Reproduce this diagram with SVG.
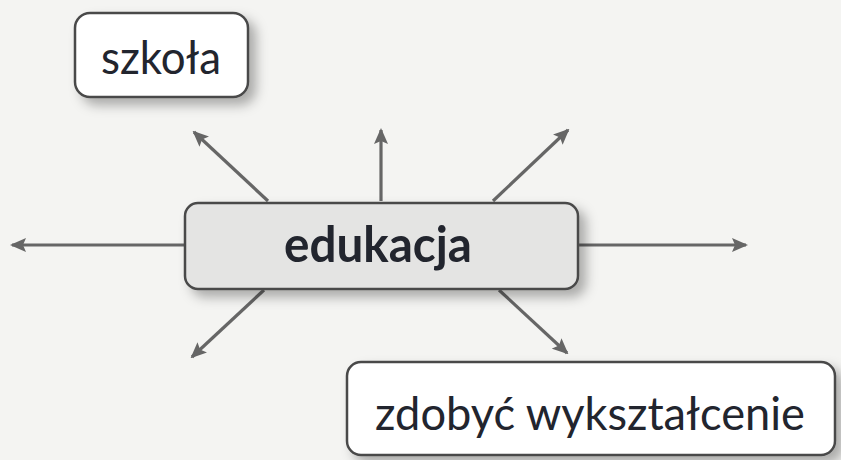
<svg xmlns="http://www.w3.org/2000/svg" width="841" height="460" viewBox="0 0 841 460">
<style>
.box{stroke:#4a4a4a;stroke-width:2.5}
.lbl{font-family:Lato,"Open Sans","DejaVu Sans",sans-serif;fill:#22252e;text-anchor:middle}
.conn line{stroke:#666;stroke-width:3.2;marker-end:url(#ah)}
</style>
<defs>
<marker id="ah" viewBox="0 0 16 14" refX="14" refY="7" markerWidth="16" markerHeight="14" markerUnits="userSpaceOnUse" orient="auto">
<path d="M0,0 L16,7 L0,14 L3,7 Z" fill="#666"/>
</marker>
<filter id="sh" x="-20%" y="-30%" width="150%" height="180%">
<feDropShadow dx="7" dy="7" stdDeviation="6" flood-color="#000" flood-opacity="0.3"/>
</filter>
</defs>
<rect width="841" height="460" fill="#f4f4f2"/>
<g id="connectors" class="conn">
<line x1="268" y1="201" x2="194" y2="132"/>
<line x1="381" y1="201" x2="381" y2="130"/>
<line x1="493" y1="201" x2="568" y2="130"/>
<line x1="185" y1="245" x2="12" y2="245"/>
<line x1="578" y1="245" x2="746" y2="245"/>
<line x1="264" y1="290" x2="192" y2="357"/>
<line x1="499" y1="290" x2="567" y2="353"/>
</g>
<g id="szkola">
<rect class="box" x="75" y="13" width="173" height="84" rx="15" fill="#fff" filter="url(#sh)"/>
<text class="lbl" x="161" y="74" font-size="46" textLength="120" lengthAdjust="spacingAndGlyphs">szkoła</text>
</g>
<g id="edukacja">
<rect class="box" x="185" y="203" width="393" height="86" rx="13" fill="#e4e4e3" filter="url(#sh)"/>
<text class="lbl" x="378" y="262" font-size="50" font-weight="bold" textLength="188" lengthAdjust="spacingAndGlyphs">edukacja</text>
</g>
<g id="zdobyc">
<rect class="box" x="347" y="362" width="488" height="93" rx="14" fill="#fff" filter="url(#sh)"/>
<text class="lbl" x="590" y="430" font-size="47" textLength="430" lengthAdjust="spacingAndGlyphs">zdobyć wykształcenie</text>
</g>
</svg>
